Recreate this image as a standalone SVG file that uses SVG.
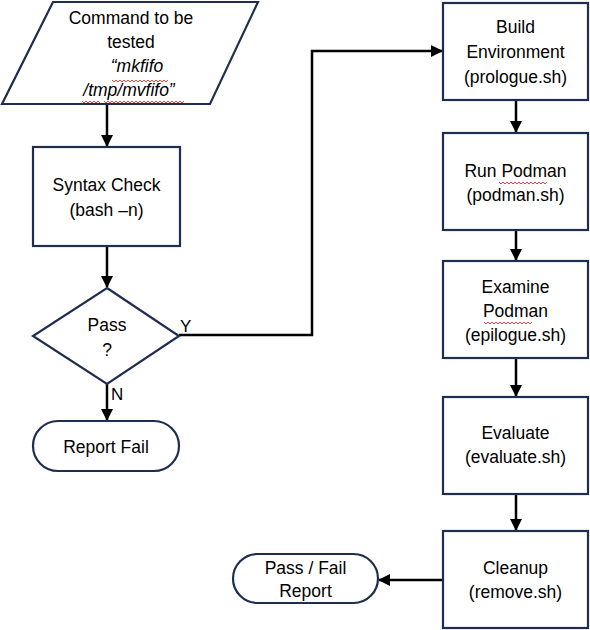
<svg xmlns="http://www.w3.org/2000/svg" width="590" height="630" viewBox="0 0 590 630">
<style>
.shape{fill:#fff;stroke:#1f2d50;stroke-width:2.2}
.t{font-family:"Liberation Sans",Arial,sans-serif;font-size:17.5px;fill:#000;text-anchor:middle}
.i{font-style:italic}
.lbl{font-family:"Liberation Sans",Arial,sans-serif;font-size:17px;fill:#000}
.c{fill:none;stroke:#000;stroke-width:2.5}
.sq{fill:none;stroke:#e03030;stroke-width:0.9}
</style>
<defs>
<marker id="ah" markerUnits="userSpaceOnUse" markerWidth="12" markerHeight="12" refX="11" refY="6" orient="auto">
<path d="M0,0 L12,6 L0,12 Z" fill="#000"/>
</marker>
</defs>
<rect width="590" height="630" fill="#fff"/>
<g id="connectors">
<path class="c" d="M107,104 V146" marker-end="url(#ah)"/>
<path class="c" d="M107,246 V287" marker-end="url(#ah)"/>
<path class="c" d="M107,384 V420" marker-end="url(#ah)"/>
<path class="c" d="M179,335 H312 V51 H442" marker-end="url(#ah)"/>
<path class="c" d="M516,100 V132" marker-end="url(#ah)"/>
<path class="c" d="M516,230 V260" marker-end="url(#ah)"/>
<path class="c" d="M516,358 V396" marker-end="url(#ah)"/>
<path class="c" d="M516,494 V530" marker-end="url(#ah)"/>
<path class="c" d="M443,580 H379" marker-end="url(#ah)"/>
<text class="lbl" x="180" y="332">Y</text>
<text class="lbl" x="111" y="400">N</text>
</g>
<g id="command">
<polygon class="shape" points="53,2 258,2 210,104 2,104"/>
<text class="t" x="131" y="24">Command to be</text>
<text class="t" x="131" y="48">tested</text>
<text class="t i" x="137" y="72">“mkfifo</text>
<text class="t i" x="129" y="96">/tmp/mvfifo”</text>
<path class="sq" d="M112,80 l2,2 l2,-2 l2,2 l2,-2 l2,2 l2,-2 l2,2 l2,-2 l2,2 l2,-2 l2,2 l2,-2 l2,2 l2,-2 l2,2 l2,-2 l2,2 l2,-2 l2,2 l2,-2 l2,2 l2,-2 l2,2 l2,-2 l2,2 l2,-2 l2,2 l2,-2"/>
<path class="sq" d="M82,101 l2,2 l2,-2 l2,2 l2,-2 l2,2 l2,-2 l2,2 l2,-2 l2,2 M104,101 l2,2 l2,-2 l2,2 l2,-2 l2,2 l2,-2 l2,2 l2,-2 l2,2 l2,-2 l2,2 l2,-2 l2,2 l2,-2 l2,2 l2,-2 l2,2 l2,-2 l2,2 l2,-2 l2,2 l2,-2 l2,2 l2,-2 l2,2 l2,-2 l2,2 l2,-2 l2,2 l2,-2 l2,2 l2,-2 l2,2 l2,-2 l2,2 l2,-2 l2,2 l2,-2 l2,2 l2,-2"/>
</g>
<g id="syntax">
<rect class="shape" x="33" y="147" width="147" height="99"/>
<text class="t" x="106.5" y="191">Syntax Check</text>
<text class="t" x="106.5" y="216">(bash –n)</text>
</g>
<g id="pass">
<polygon class="shape" points="107,288 179,336 107,384 33,336"/>
<text class="t" x="107" y="331">Pass</text>
<text class="t" x="107" y="356">?</text>
</g>
<g id="reportfail">
<rect class="shape" x="33" y="421" width="146" height="50" rx="25"/>
<text class="t" x="106" y="453">Report Fail</text>
</g>
<g id="build">
<rect class="shape" x="443" y="3" width="145" height="97"/>
<text class="t" x="515.5" y="33">Build</text>
<text class="t" x="515.5" y="58">Environment</text>
<text class="t" x="515.5" y="83">(prologue.sh)</text>
</g>
<g id="run">
<rect class="shape" x="443" y="133" width="145" height="97"/>
<text class="t" x="515.5" y="177">Run Podman</text>
<text class="t" x="515.5" y="201">(podman.sh)</text>
<path class="sq" d="M499,182 l2,2 l2,-2 l2,2 l2,-2 l2,2 l2,-2 l2,2 l2,-2 l2,2 l2,-2 l2,2 l2,-2 l2,2 l2,-2 l2,2 l2,-2 l2,2 l2,-2 l2,2 l2,-2 l2,2 l2,-2 l2,2 l2,-2"/>
</g>
<g id="examine">
<rect class="shape" x="443" y="261" width="145" height="97"/>
<text class="t" x="515.5" y="293">Examine</text>
<text class="t" x="515.5" y="317">Podman</text>
<text class="t" x="515.5" y="341">(epilogue.sh)</text>
<path class="sq" d="M484,322 l2,2 l2,-2 l2,2 l2,-2 l2,2 l2,-2 l2,2 l2,-2 l2,2 l2,-2 l2,2 l2,-2 l2,2 l2,-2 l2,2 l2,-2 l2,2 l2,-2 l2,2 l2,-2 l2,2 l2,-2 l2,2 l2,-2"/>
</g>
<g id="evaluate">
<rect class="shape" x="443" y="397" width="145" height="97"/>
<text class="t" x="515.5" y="439">Evaluate</text>
<text class="t" x="515.5" y="463">(evaluate.sh)</text>
</g>
<g id="cleanup">
<rect class="shape" x="443" y="531" width="145" height="97"/>
<text class="t" x="515.5" y="574">Cleanup</text>
<text class="t" x="515.5" y="598">(remove.sh)</text>
</g>
<g id="passfail">
<rect class="shape" x="233" y="554" width="145" height="49" rx="24.5"/>
<text class="t" x="305.5" y="574">Pass / Fail</text>
<text class="t" x="305.5" y="597">Report</text>
</g>
</svg>
